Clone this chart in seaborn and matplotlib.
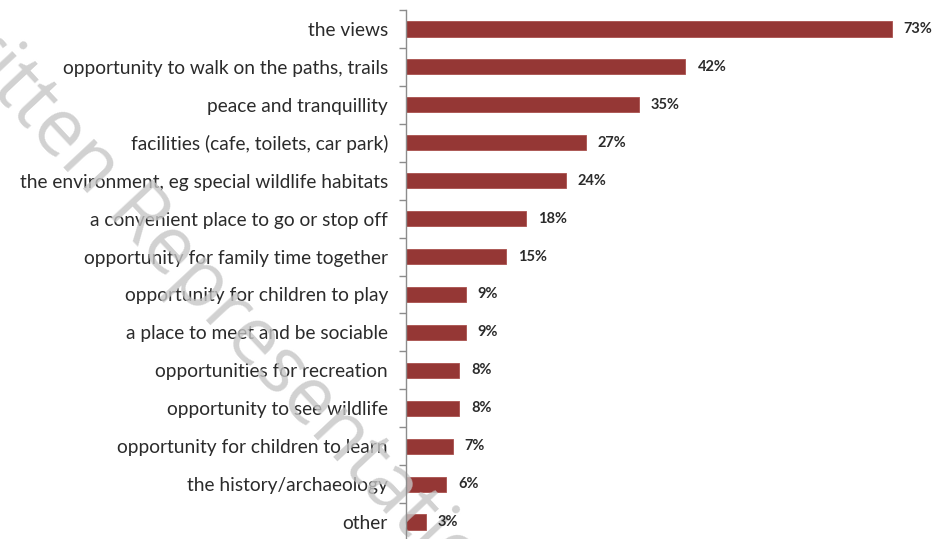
import matplotlib
matplotlib.use("Agg")
import matplotlib.pyplot as plt
import seaborn as sns
import pandas as pd
import numpy as np
from matplotlib.ticker import FixedLocator

# Reasons for visiting, share of respondents (%)
categories = [
    "the views",
    "opportunity to walk on the paths, trails",
    "peace and tranquillity",
    "facilities (cafe, toilets, car park)",
    "the environment, eg special wildlife habitats",
    "a convenient place to go or stop off",
    "opportunity for family time together",
    "opportunity for children to play",
    "a place to meet and be sociable",
    "opportunities for recreation",
    "opportunity to see wildlife",
    "opportunity for children to learn",
    "the history/archaeology",
    "other",
]
values = [73, 42, 35, 27, 24, 18, 15, 9, 9, 8, 8, 7, 6, 3]
value_labels = [f"{v}%" for v in values]

df = pd.DataFrame({"reason": categories, "pct": values})

sns.set_theme(style="white")
plt.rcParams["font.family"] = ["Lato", "DejaVu Sans"]

fig = plt.figure(figsize=(9.51, 5.39), dpi=100)
ax = fig.add_axes([406 / 951, 1 - 541 / 539, 1 - 406 / 951, 531 / 539])

sns.barplot(data=df, y="reason", x="pct", orient="h", color="#953735",
            saturation=1, width=0.40, edgecolor="#a9504d", linewidth=0.6, ax=ax)

ax.set_xlim(0, 81.9)
ax.set_ylim(len(categories) - 0.5, -0.5)
ax.set_xlabel("")
ax.set_ylabel("")
ax.set_xticks([])

for s in ["top", "right", "bottom"]:
    ax.spines[s].set_visible(False)
ax.spines["left"].set_color("#8c8c8c")
ax.spines["left"].set_linewidth(1.0)

ax.yaxis.set_minor_locator(FixedLocator(np.arange(-0.5, len(categories), 1.0)))
ax.tick_params(axis="y", which="major", length=0, pad=13, labelsize=13.8,
               labelcolor="#2b2b2b")
ax.tick_params(axis="y", which="minor", length=5, width=1.0, color="#8c8c8c",
               left=True)

for i, (v, lab) in enumerate(zip(values, value_labels)):
    ax.text(v + 1.8, i, lab, va="center", ha="left", fontsize=10.5,
            fontweight="bold", color="#2b2b2b", zorder=3)

# Diagonal watermark: above the bars, beneath the labels
ax.text(-0.100, 1.004, "Written Representation", transform=fig.transFigure,
        rotation=-47, rotation_mode="anchor", ha="left", va="baseline",
        fontsize=56.5, family=["Open Sans", "DejaVu Sans"],
        color="#c6c6c6", alpha=0.8, zorder=2.2, clip_on=False)

fig.savefig("out.png", dpi=100)
